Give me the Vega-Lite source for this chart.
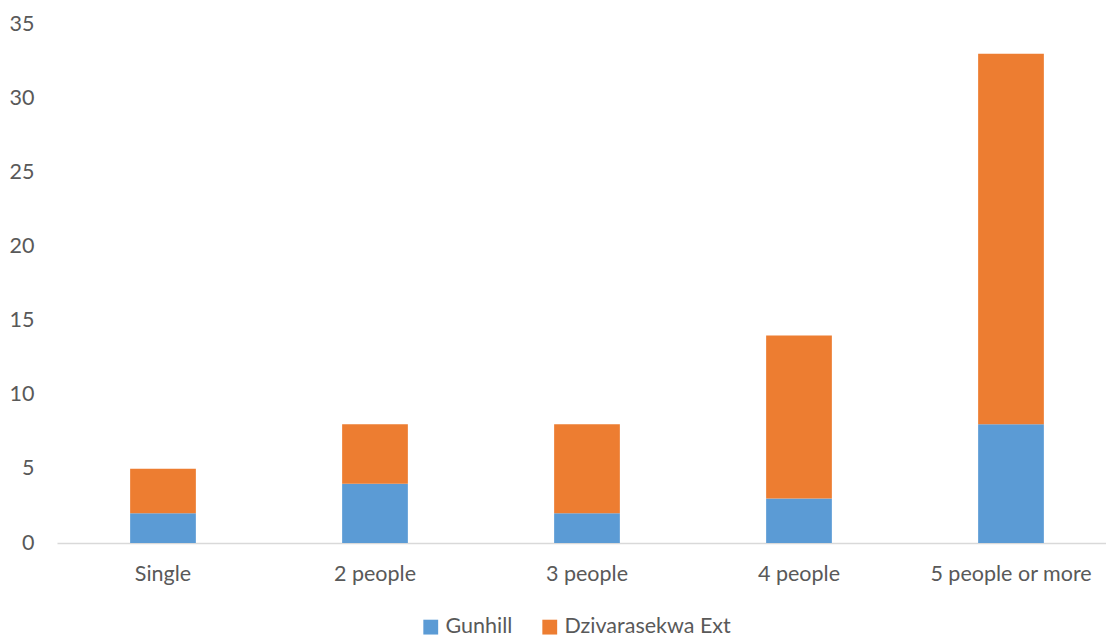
{
  "$schema": "https://vega.github.io/schema/vega-lite/v6.json",
  "autosize": {"type": "none"},
  "padding": {"left": 57, "top": 24, "right": 0, "bottom": 94},
  "width": 1049,
  "height": 519,
  "background": "white",
  "config": {"view": {"stroke": null}, "font": "Lato"},
  "data": {"values": [
    {"size": "Single", "series": "Gunhill", "value": 2},
    {"size": "Single", "series": "Dzivarasekwa Ext", "value": 3},
    {"size": "2 people", "series": "Gunhill", "value": 4},
    {"size": "2 people", "series": "Dzivarasekwa Ext", "value": 4},
    {"size": "3 people", "series": "Gunhill", "value": 2},
    {"size": "3 people", "series": "Dzivarasekwa Ext", "value": 6},
    {"size": "4 people", "series": "Gunhill", "value": 3},
    {"size": "4 people", "series": "Dzivarasekwa Ext", "value": 11},
    {"size": "5 people or more", "series": "Gunhill", "value": 8},
    {"size": "5 people or more", "series": "Dzivarasekwa Ext", "value": 25}
  ]},
  "mark": {"type": "bar"},
  "encoding": {
    "x": {
      "field": "size", "type": "nominal",
      "sort": ["Single", "2 people", "3 people", "4 people", "5 people or more"],
      "scale": {"range": [0, 1060], "paddingInner": 0.69, "paddingOuter": 0.345},
      "axis": {"title": null, "labelAngle": 0, "ticks": false, "domainColor": "#d9d9d9", "domainWidth": 1.5,
               "labelFontSize": 21.5, "labelColor": "#595959", "labelPadding": 20, "grid": false}
    },
    "y": {
      "field": "value", "type": "quantitative", "aggregate": "sum", "stack": "zero",
      "scale": {"domain": [0, 35], "nice": false},
      "axis": {"title": null, "values": [0, 5, 10, 15, 20, 25, 30, 35], "ticks": false, "domain": false, "grid": false,
               "labelFontSize": 21.5, "labelColor": "#595959", "labelPadding": 23}
    },
    "color": {
      "field": "series", "type": "nominal",
      "scale": {"domain": ["Gunhill", "Dzivarasekwa Ext"], "range": ["#5b9bd5", "#ed7d31"]},
      "legend": {"title": null, "orient": "none", "legendX": 363, "legendY": 592, "direction": "horizontal",
                 "symbolType": "square", "symbolSize": 220, "symbolStrokeWidth": 0, "labelFontSize": 21.5, "labelColor": "#595959",
                 "labelLimit": 400, "columnPadding": 26, "labelOffset": 4}
    },
    "order": {"field": "series", "sort": "descending"}
  }
}
